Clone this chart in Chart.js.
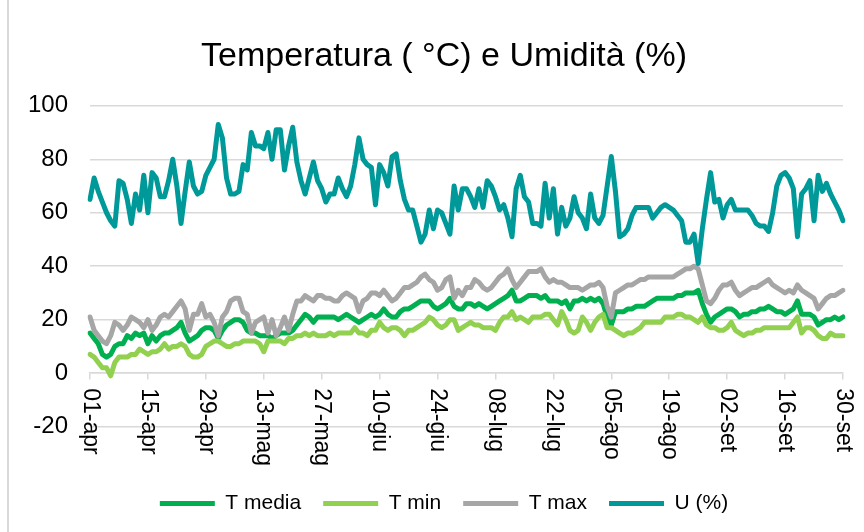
<!DOCTYPE html>
<html>
<head>
<meta charset="utf-8">
<script src="https://cdn.jsdelivr.net/npm/chart.js@4.4.1/dist/chart.umd.min.js"></script>
<style>
  html, body { margin: 0; padding: 0; background: #fff; }
  #wrap { position: relative; width: 864px; height: 532px; }
  #bordo { position: absolute; left: 7px; top: 0; width: 2px; height: 532px; background: #d9d9d9; }
</style>
</head>
<body>
<div id="wrap">
  <canvas id="grafico" width="864" height="532"></canvas>
  <div id="bordo"></div>
</div>
<script>
// mesi e giorni (01-apr ... 30-set)
const mesi = ['apr', 'mag', 'giu', 'lug', 'ago', 'set'];
const giorniMese = [30, 31, 30, 31, 31, 30];
const giorni = [];
mesi.forEach((m, k) => {
  for (let g = 1; g <= giorniMese[k]; g++) {
    giorni.push(String(g).padStart(2, '0') + '-' + m);
  }
});

const tickEtichette = ['01-apr', '15-apr', '29-apr', '13-mag', '27-mag', '10-giu', '24-giu',
  '08-lug', '22-lug', '05-ago', '19-ago', '02-set', '16-set', '30-set'];

const tMedia = [
  15, 13, 11, 7, 6, 7, 10, 11, 11, 14, 13, 15, 14, 15, 11, 14, 12, 14, 15, 15,
  16, 17, 19, 15, 12, 13, 14, 16, 17, 17, 16, 13, 16, 18, 19, 20, 20, 19, 16, 15,
  15, 14, 14, 14, 13, 14, 15, 15, 15, 16, 18, 20, 22, 21, 19, 21, 21, 21, 21, 21,
  20, 21, 22, 21, 20, 19, 20, 21, 22, 21, 22, 24, 22, 21, 21, 23, 24, 24, 25, 26,
  27, 27, 27, 25, 24, 25, 26, 28, 25, 24, 24, 26, 26, 25, 26, 25, 24, 25, 26, 27,
  28, 29, 31, 27, 27, 28, 29, 29, 29, 28, 29, 27, 27, 27, 26, 27, 24, 27, 27, 28,
  27, 28, 27, 28, 26, 21, 18, 23, 23, 23, 24, 24, 25, 25, 25, 26, 27, 28, 28, 28,
  28, 28, 29, 29, 30, 30, 30, 31, 26, 22, 19, 21, 22, 23, 24, 24, 23, 21, 22, 22,
  23, 23, 24, 24, 25, 24, 23, 23, 22, 23, 24, 27, 22, 22, 22, 21, 18, 19, 20, 20,
  21, 20, 21
];

const tMin = [
  7, 6, 4, 2, 2, -1, 4, 6, 6, 6, 7, 7, 9, 8, 7, 8, 8, 9, 11, 9,
  10, 10, 11, 10, 7, 6, 6, 7, 10, 11, 12, 12, 11, 10, 10, 11, 11, 12, 12, 12,
  12, 11, 8, 12, 12, 12, 12, 11, 13, 13, 14, 14, 15, 14, 15, 14, 14, 14, 15, 14,
  15, 15, 15, 15, 17, 15, 15, 14, 16, 16, 19, 17, 16, 17, 17, 16, 14, 16, 16, 17,
  18, 19, 21, 20, 18, 17, 18, 20, 20, 16, 17, 18, 19, 18, 18, 17, 17, 17, 16, 19,
  21, 21, 23, 20, 21, 20, 19, 21, 21, 21, 22, 22, 20, 18, 23, 20, 16, 15, 16, 21,
  19, 16, 19, 21, 22, 17, 17, 16, 15, 14, 15, 15, 16, 17, 19, 19, 19, 19, 19, 21,
  21, 21, 22, 22, 21, 21, 20, 19, 21, 18, 17, 17, 16, 16, 17, 19, 16, 15, 14, 15,
  15, 16, 16, 17, 17, 17, 17, 17, 17, 17, 19, 21, 15, 17, 17, 16, 14, 13, 13, 15,
  14, 14, 14
];

const tMax = [
  21, 16, 14, 12, 11, 14, 19, 18, 16, 18, 21, 20, 19, 17, 20, 16, 18, 21, 22, 21,
  23, 25, 27, 24, 16, 22, 22, 26, 21, 22, 19, 14, 21, 23, 27, 28, 28, 23, 22, 15,
  19, 20, 21, 15, 20, 14, 17, 21, 16, 22, 27, 27, 29, 28, 27, 29, 29, 28, 28, 27,
  27, 29, 30, 29, 28, 23, 27, 28, 30, 30, 29, 31, 29, 27, 28, 30, 32, 32, 33, 34,
  36, 37, 35, 34, 31, 32, 35, 36, 28, 31, 29, 32, 32, 35, 34, 32, 31, 32, 34, 36,
  37, 39, 35, 32, 34, 36, 38, 38, 38, 39, 36, 34, 35, 34, 34, 33, 32, 32, 32, 31,
  32, 33, 33, 34, 32, 25, 21, 30, 31, 32, 33, 33, 34, 35, 35, 36, 36, 36, 36, 36,
  36, 36, 37, 38, 39, 39, 40, 39, 33, 27, 26, 28, 31, 33, 33, 34, 31, 29, 30, 31,
  32, 32, 33, 34, 35, 33, 32, 31, 30, 31, 30, 33, 31, 30, 29, 28, 24, 26, 28, 29,
  29, 30, 31
];

const umidita = [
  65, 73, 68, 64, 60, 57, 55, 72, 71, 65, 56, 67, 61, 74, 60, 75, 73, 66, 66, 72,
  80, 70, 56, 68, 79, 70, 67, 68, 74, 77, 80, 93, 88, 73, 67, 67, 68, 78, 76, 90,
  85, 85, 84, 90, 80, 91, 91, 76, 85, 92, 79, 72, 67, 73, 79, 72, 69, 64, 67, 67,
  73, 69, 66, 70, 78, 88, 80, 78, 77, 63, 78, 75, 70, 81, 82, 72, 65, 61, 61, 55,
  49, 52, 61, 54, 61, 60, 56, 52, 70, 61, 69, 69, 66, 62, 69, 62, 72, 70, 66, 61,
  63, 58, 51, 69, 74, 66, 64, 56, 56, 55, 71, 58, 69, 52, 62, 55, 58, 66, 60, 58,
  54, 67, 58, 56, 59, 70, 81, 68, 51, 52, 54, 59, 62, 62, 62, 62, 58, 60, 62, 63,
  62, 61, 59, 57, 49, 49, 52, 41, 54, 65, 75, 64, 65, 58, 63, 65, 61, 61, 61, 61,
  59, 56, 55, 55, 53, 60, 70, 74, 75, 73, 69, 51, 67, 69, 72, 57, 74, 68, 71, 67,
  64, 61, 57
];

const FONT = '"Liberation Sans", Arial, sans-serif';
Chart.defaults.font.family = FONT;
Chart.defaults.color = '#000';

// etichette dell'asse x ruotate verso il basso, sotto lo zero
const etichetteX = {
  id: 'etichetteX',
  afterDraw(chart) {
    const { ctx, scales: { x, y } } = chart;
    const y0 = y.getPixelForValue(0);
    ctx.save();
    ctx.font = '23px ' + FONT;
    ctx.fillStyle = '#000';
    ctx.textAlign = 'left';
    ctx.textBaseline = 'middle';
    giorni.forEach((g, i) => {
      if (!tickEtichette.includes(g)) return;
      ctx.save();
      ctx.translate(x.getPixelForValue(i), y0 + 15);
      ctx.rotate(Math.PI / 2);
      ctx.fillText(g, 0, 0);
      ctx.restore();
    });
    ctx.restore();
  }
};

const serie = (label, data, color, order) => ({
  label, data, order,
  borderColor: color,
  backgroundColor: color,
  borderWidth: 5,
  borderJoinStyle: 'round',
  borderCapStyle: 'round',
  pointRadius: 0,
  tension: 0
});

new Chart(document.getElementById('grafico'), {
  type: 'line',
  data: {
    labels: giorni,
    datasets: [
      serie('T media', tMedia, '#00B050', 4),
      serie('T min', tMin, '#92D050', 3),
      serie('T max', tMax, '#A6A6A6', 2),
      serie('U (%)', umidita, '#009999', 1)
    ]
  },
  options: {
    responsive: false,
    animation: false,
    layout: { padding: { left: 28, right: 4, top: 0, bottom: 8 } },
    scales: {
      x: {
        type: 'category',
        position: { y: 0 },
        offset: false,
        ticks: { display: false },
        grid: {
          drawOnChartArea: false,
          drawTicks: true,
          tickLength: 6,
          lineWidth: 1.5,
          color: c => tickEtichette.includes(giorni[c.index]) ? '#d9d9d9' : 'transparent'
        },
        border: { display: true, color: '#d9d9d9', width: 1.5 }
      },
      y: {
        min: -20,
        max: 100,
        afterFit: s => { s.width = 62; },
        ticks: { stepSize: 20, padding: 22, font: { size: 24 }, color: '#000' },
        grid: { color: '#d9d9d9', lineWidth: 1.5, drawTicks: false },
        border: { display: false }
      },
      // margine vuoto a destra dell'area del grafico
      destra: {
        type: 'linear',
        position: 'right',
        afterFit: s => { s.width = 17; },
        ticks: { display: false },
        grid: { display: false },
        border: { display: false }
      }
    },
    plugins: {
      title: {
        display: true,
        text: 'Temperatura ( °C) e Umidità (%)',
        font: { size: 34, weight: 'normal' },
        color: '#000',
        padding: { top: 36, bottom: 29 }
      },
      legend: {
        position: 'bottom',
        title: { display: true, text: '', padding: { top: 30, bottom: 0 } },
        labels: {
          usePointStyle: true,
          pointStyle: 'line',
          pointStyleWidth: 55,
          padding: 22,
          color: '#000',
          font: { size: 21 },
          sort: (a, b) => a.datasetIndex - b.datasetIndex
        }
      },
      tooltip: { enabled: false }
    }
  },
  plugins: [etichetteX]
});
</script>
</body>
</html>
